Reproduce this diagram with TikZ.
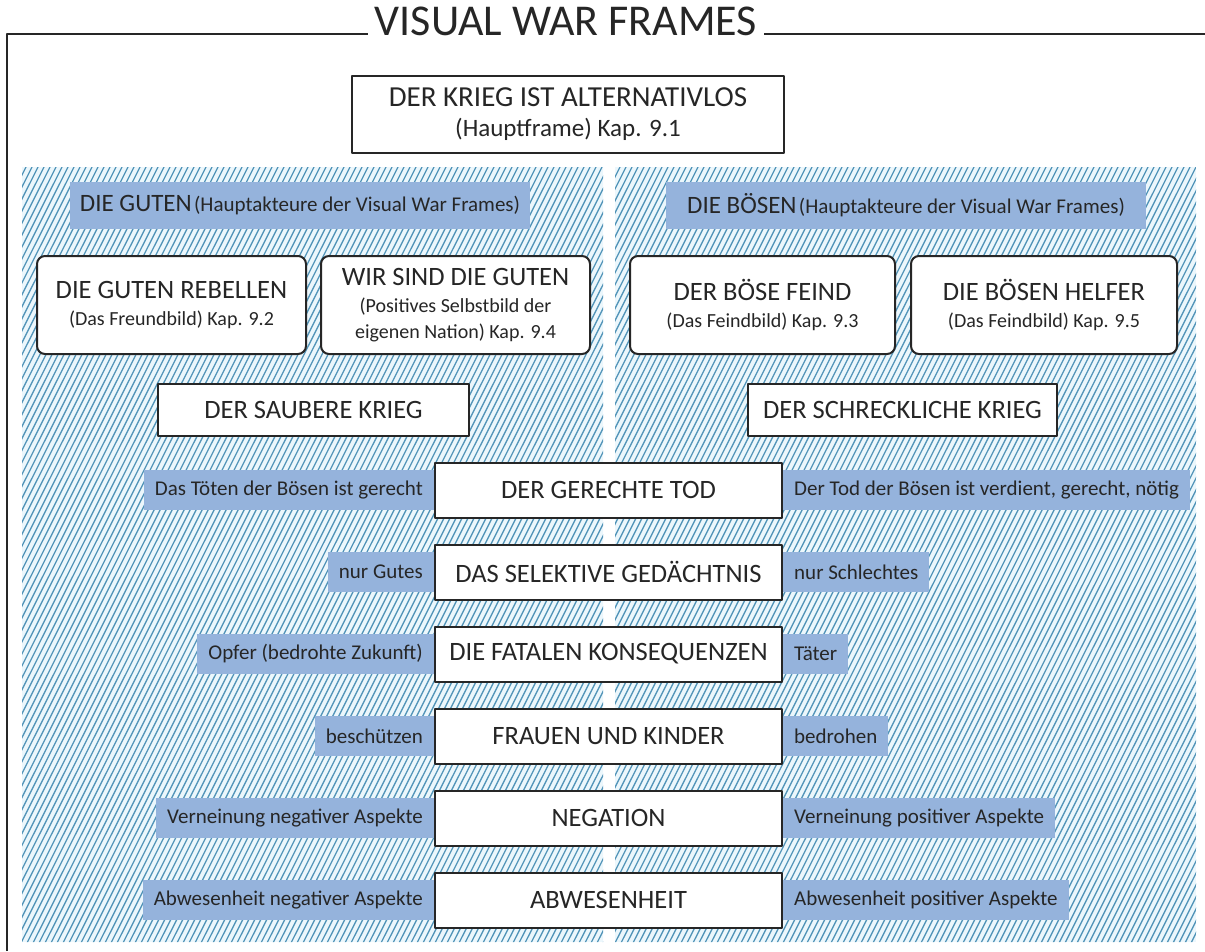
\documentclass[tikz,border=0pt]{standalone}
\usepackage{fontspec}
\setmainfont{Carlito}
\usetikzlibrary{positioning}
\definecolor{tagblue}{RGB}{149,179,220}
\definecolor{hatchblue}{RGB}{82,148,184}
\definecolor{hatchbg}{RGB}{236,247,252}
\newcommand{\capsfont}{\fontsize{26.5}{30}\selectfont}
\newcommand{\subfont}{\fontsize{20}{25}\selectfont}
\newcommand{\tagfont}{\fontsize{21}{24}\selectfont}

\begin{document}
\begin{tikzpicture}[x=1pt,y=-1pt,line join=round,
    frameline/.style={line width=1.6pt,black!85},
    hatchline/.style={line width=1.3pt,hatchblue},
    mainbox/.style={draw=black!85,line width=2pt,fill=white,minimum width=347pt,
      minimum height=55pt,inner sep=0pt,font=\capsfont,text=black!85},
    sidebox/.style={draw=black!85,line width=2pt,fill=white,minimum height=52pt,
      inner sep=0pt,font=\capsfont,text=black!85},
    rbox/.style={draw=black!85,line width=2pt,fill=white,rounded corners=8pt,
      minimum height=98pt,inner sep=0pt,align=center,font=\capsfont,text=black!85},
    tagbox/.style={fill=tagblue,minimum height=40pt,inner xsep=11pt,inner ysep=0pt,
      font=\tagfont,text=black!85},
    band/.style={fill=tagblue,minimum height=47pt,inner sep=0pt,text=black!85},
    node distance=25pt]
  \useasboundingbox (0,0) rectangle (1205,951);

  % frame and title
  \coordinate (topline) at (0,34);
  \node[anchor=base,inner xsep=7pt,font=\fontsize{44}{48}\selectfont,text=black!85] (title) at (566,35) {VISUAL WAR FRAMES};
  \draw[frameline] (7,951) -- (7,34) -- (title.west |- topline);
  \draw[frameline] (title.east |- topline) -- (1205,34);

  % hatched panels
  \begin{scope}
    \clip (22,167) rectangle (603,942) (615,167) rectangle (1196,942);
    \fill[hatchbg] (22,167) rectangle (1196,942);
    \foreach \i in {0,...,265}
      \draw[hatchline] (-400+\i*6,945) -- ++(392,-782);
  \end{scope}

  \node[mainbox,minimum width=432pt,minimum height=77pt,align=center,font=\fontsize{29}{32}\selectfont] (hauptframe) at (568,114.5)
    {DER KRIEG IST ALTERNATIVLOS\\[-2pt]{\fontsize{25}{28}\selectfont (Hauptframe) Kap. 9.1}};

  % actors
  \node[band,minimum width=460pt] (guten) at (300,205.5)
    {{\fontsize{25}{28}\selectfont DIE GUTEN} {\tagfont (Hauptakteure der Visual War Frames)}};
  \node[band,minimum width=480pt] (boesen) at (906,205.5)
    {{\fontsize{25}{28}\selectfont DIE BÖSEN} {\tagfont (Hauptakteure der Visual War Frames)}};

  \node[rbox,minimum width=269pt] (rebellen) at (171.5,305)
    {DIE GUTEN REBELLEN\\[-3pt]{\subfont (Das Freundbild) Kap. 9.2}};
  \node[rbox,minimum width=269pt] (wir) at (455.5,305)
    {WIR SIND DIE GUTEN\\[-3pt]{\subfont (Positives Selbstbild der}\\[-4pt]{\subfont eigenen Nation) Kap. 9.4}};
  \node[rbox,minimum width=265pt] (feind) at (762.5,305)
    {DER BÖSE FEIND\\[-3pt]{\subfont (Das Feindbild) Kap. 9.3}};
  \node[rbox,minimum width=266pt] (helfer) at (1044,305)
    {DIE BÖSEN HELFER\\[-3pt]{\subfont (Das Feindbild) Kap. 9.5}};

  \node[sidebox,minimum width=311pt] (sauber) at (313.5,410) {DER SAUBERE KRIEG};
  \node[sidebox,minimum width=309pt] (schrecklich) at (902.5,410) {DER SCHRECKLICHE KRIEG};

  % frames with both readings
  \node[mainbox] (tod) at (608.5,490) {DER GERECHTE TOD};
  \node[mainbox,below=of tod] (gedaechtnis) {DAS SELEKTIVE GEDÄCHTNIS};
  \node[mainbox,below=of gedaechtnis] (folgen) {DIE FATALEN KONSEQUENZEN};
  \node[mainbox,below=of folgen] (frauen) {FRAUEN UND KINDER};
  \node[mainbox,below=of frauen] (negation) {NEGATION};
  \node[mainbox,below=of negation] (abwesenheit) {ABWESENHEIT};

  \node[tagbox,left=0pt of tod] (todL) {Das Töten der Bösen ist gerecht};
  \node[tagbox,right=0pt of tod] (todR) {Der Tod der Bösen ist verdient, gerecht, nötig};
  \node[tagbox,left=0pt of gedaechtnis] (gedaechtnisL) {nur Gutes};
  \node[tagbox,right=0pt of gedaechtnis] (gedaechtnisR) {nur Schlechtes};
  \node[tagbox,left=0pt of folgen] (folgenL) {Opfer (bedrohte Zukunft)};
  \node[tagbox,right=0pt of folgen] (folgenR) {Täter};
  \node[tagbox,left=0pt of frauen] (frauenL) {beschützen};
  \node[tagbox,right=0pt of frauen] (frauenR) {bedrohen};
  \node[tagbox,left=0pt of negation] (negationL) {Verneinung negativer Aspekte};
  \node[tagbox,right=0pt of negation] (negationR) {Verneinung positiver Aspekte};
  \node[tagbox,left=0pt of abwesenheit] (abwesenheitL) {Abwesenheit negativer Aspekte};
  \node[tagbox,right=0pt of abwesenheit] (abwesenheitR) {Abwesenheit positiver Aspekte};
\end{tikzpicture}
\end{document}
